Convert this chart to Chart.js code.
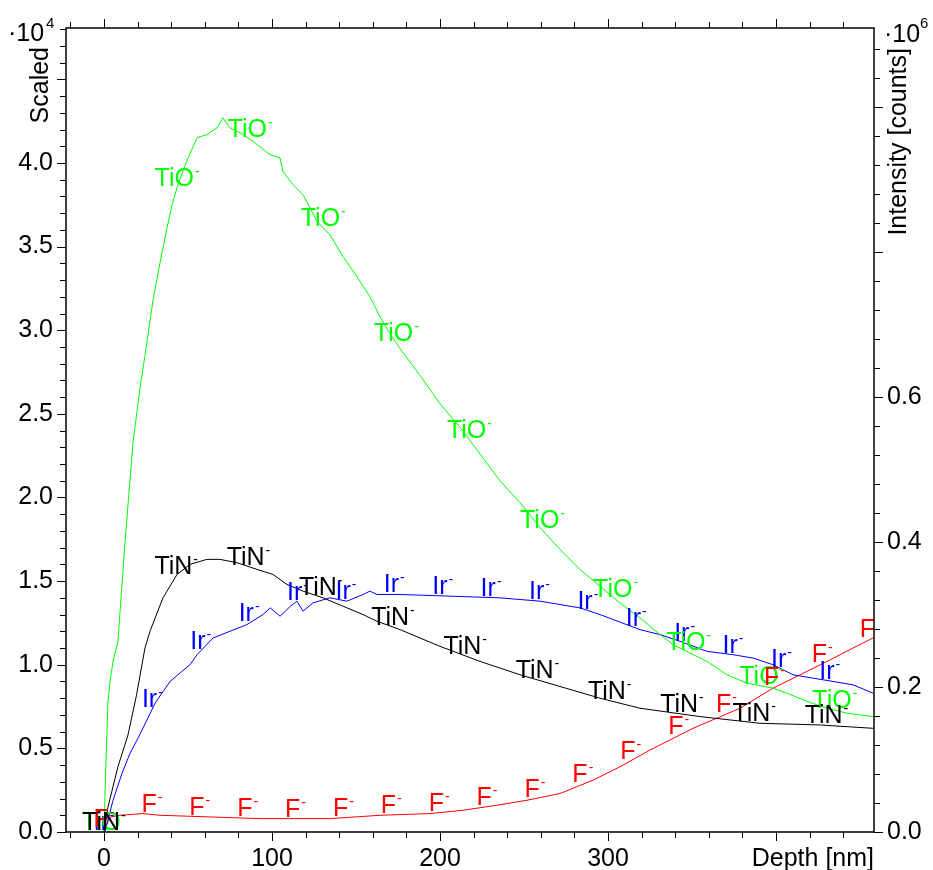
<!DOCTYPE html>
<html>
<head>
<meta charset="utf-8">
<script src="https://cdn.jsdelivr.net/npm/chart.js@4"></script>
<style>
  html, body { margin: 0; padding: 0; background: #fff; }
</style>
</head>
<body>
<canvas id="depthChart" width="933" height="870"></canvas>
<script>
// depth profile data (depth in nm, signal in units of 1e4 on the "Scaled" axis)
const tioDepth = [0, 1.2, 2.4, 3.6, 5.4, 8.3, 12.5, 17.3, 21.4, 25.6, 29.2, 33.3, 37.5, 40.5, 44, 50, 55.4, 61.3, 67.3, 70.8,
  75, 81, 88.7, 98.8, 104.8, 106.5, 112.5, 118.5, 126.8, 134.5, 142.3, 150.6, 158.3, 164.3, 170.2, 176.2, 188.1, 200, 211.9, 223.8,
  235.7, 247.6, 259.5, 271.4, 283.3, 295.2, 307.1, 319, 331, 338.7, 358.9, 370.8, 382.7, 398.2, 406.5, 418.5, 430.4, 442.3, 457.7];
const tioValues = [0, 0.43, 0.78, 0.90, 1.02, 1.14, 1.73, 2.33, 2.65, 2.93, 3.18, 3.40, 3.61, 3.75, 3.87, 4.03, 4.15, 4.17, 4.21, 4.27,
  4.21, 4.18, 4.13, 4.05, 4.03, 3.95, 3.87, 3.81, 3.65, 3.57, 3.44, 3.32, 3.20, 3.08, 2.98, 2.89, 2.73, 2.56, 2.42, 2.26,
  2.10, 1.97, 1.82, 1.69, 1.57, 1.47, 1.37, 1.28, 1.18, 1.12, 1.02, 0.94, 0.89, 0.86, 0.83, 0.78, 0.74, 0.71, 0.69];

const tinDepth = [0, 2.4, 8.3, 14.3, 19.4, 24.4, 27.4, 35.1, 43.5, 51.2, 61.3, 69, 79.2, 91.1, 100.6, 108.9, 118.5, 130.4, 142.3, 154.2,
  162.5, 176.2, 200, 223.8, 247.6, 271.4, 295.2, 319, 354.8, 390.5, 426.2, 457.7];
const tinValues = [0, 0.15, 0.39, 0.58, 0.82, 1.10, 1.20, 1.40, 1.54, 1.60, 1.63, 1.63, 1.61, 1.57, 1.54, 1.48, 1.44, 1.40, 1.35, 1.30,
  1.26, 1.21, 1.11, 1.02, 0.94, 0.87, 0.80, 0.74, 0.69, 0.65, 0.64, 0.62];

const irDepth = [0.6, 5.4, 10.7, 15.5, 20.2, 25.6, 30.4, 34.5, 39.3, 45.2, 51.2, 55.4, 64.9, 75, 85.1, 94.6, 99, 104.8, 111, 114.9,
  118.5, 124.4, 134.5, 144.6, 154.2, 158.3, 162.5, 176.2, 206, 235.7, 259.5, 283.3, 295.2, 319, 331, 342.9, 358.9, 374.4, 386.3, 398.2,
  410.1, 422, 433.9, 445.8, 457.7];
const irValues = [0, 0.19, 0.35, 0.47, 0.56, 0.67, 0.77, 0.83, 0.90, 0.95, 1.00, 1.06, 1.16, 1.20, 1.24, 1.30, 1.34, 1.29, 1.35, 1.38,
  1.32, 1.37, 1.40, 1.38, 1.42, 1.44, 1.42, 1.42, 1.41, 1.40, 1.38, 1.34, 1.30, 1.21, 1.18, 1.14, 1.08, 1.06, 1.04, 1.00,
  0.94, 0.92, 0.90, 0.88, 0.83];

const fDepth = [0, 4, 9.5, 23.2, 33.3, 63.1, 92.9, 134.5, 164.3, 194, 213.7, 233.9, 251.8, 271.4, 291.1, 307.1, 325, 350.6, 378.6, 398.2,
  414.3, 430.4, 445.8, 457.7];
const fValues = [0.02, 0.09, 0.10, 0.11, 0.10, 0.09, 0.08, 0.08, 0.10, 0.11, 0.13, 0.16, 0.19, 0.23, 0.31, 0.39, 0.49, 0.62, 0.74, 0.86,
  0.94, 1.02, 1.10, 1.16];

// depths where the curve names are written
const tioLabelDepth = [0, 43.5, 87, 130.5, 174, 217.5, 261, 304.5, 348, 391.5, 435];
const tinLabelDepth = [0, 43, 86, 129, 172, 215, 258, 301, 344, 387, 430];
const irLabelDepth = [0, 28.8, 57.6, 86.4, 115.2, 144, 172.8, 201.6, 230.4, 259.2, 288, 316.8, 345.6, 374.4, 403.2, 432];
const fLabelDepth = [0, 28.5, 57, 85.5, 114, 142.5, 171, 199.5, 228, 256.5, 285, 313.5, 342, 370.5, 399, 427.5, 456];

// axis ticks
const depthTicks = [0, 100, 200, 300];
const scaledTicks = [0, 0.5, 1, 1.5, 2, 2.5, 3, 3.5, 4];
const intensityTicks = [0, 0.2, 0.4, 0.6];

const FONT = '"Liberation Sans", Arial, sans-serif';

const series = [
  { name: 'TiO', color: '#00ff00', depth: tioDepth, values: tioValues, labels: tioLabelDepth },
  { name: 'TiN', color: '#000000', depth: tinDepth, values: tinValues, labels: tinLabelDepth },
  { name: 'Ir', color: '#0000ff', depth: irDepth, values: irValues, labels: irLabelDepth },
  { name: 'F', color: '#ff0000', depth: fDepth, values: fValues, labels: fLabelDepth }
];

function valueAt(depths, values, d) {
  if (d <= depths[0]) return values[0];
  for (let i = 1; i < depths.length; i++) {
    if (d <= depths[i]) {
      const t = (d - depths[i - 1]) / (depths[i] - depths[i - 1]);
      return values[i - 1] + t * (values[i] - values[i - 1]);
    }
  }
  return values[values.length - 1];
}

function drawIonLabel(ctx, text, cx, baseY, color) {
  ctx.font = '25px ' + FONT;
  const w = ctx.measureText(text).width;
  ctx.font = '14px ' + FONT;
  const sw = ctx.measureText('-').width;
  const left = cx - (w + sw + 1) / 2;
  ctx.fillStyle = color;
  ctx.font = '25px ' + FONT;
  ctx.fillText(text, left, baseY);
  ctx.font = '14px ' + FONT;
  ctx.fillText('-', left + w + 1, baseY - 10);
}

// curve names written along each line
const curveLabels = {
  id: 'curveLabels',
  afterDatasetsDraw(chart) {
    const { ctx, chartArea: a, scales } = chart;
    ctx.save();
    ctx.beginPath();
    ctx.rect(a.left, a.top, a.right - a.left, a.bottom - a.top);
    ctx.clip();
    ctx.textAlign = 'left';
    ctx.textBaseline = 'alphabetic';
    ['Ir', 'TiO', 'F', 'TiN'].forEach(name => {
      const s = series.find(it => it.name === name);
      s.labels.forEach(d => {
        const px = scales.x.getPixelForValue(d);
        const py = scales.y.getPixelForValue(valueAt(s.depth, s.values, d));
        drawIonLabel(ctx, s.name, px, py - 2, s.color);
      });
    });
    ctx.restore();
  }
};

// box, outward tick marks and axis titles
const frameAndTitles = {
  id: 'frameAndTitles',
  afterDraw(chart) {
    const { ctx, chartArea: a, scales } = chart;
    ctx.save();
    ctx.strokeStyle = '#000';
    ctx.lineWidth = 1;
    ctx.beginPath();
    for (let i = -1; i * 20 <= 440; i++) {
      const px = Math.round(scales.x.getPixelForValue(i * 20)) + 0.5;
      const len = i % 5 === 0 ? 9 : 6;
      ctx.moveTo(px, a.bottom); ctx.lineTo(px, a.bottom + len);
      ctx.moveTo(px, a.top); ctx.lineTo(px, a.top - len);
    }
    for (let i = 0; i <= 48; i++) {
      const py = Math.round(scales.y.getPixelForValue(i / 10)) + 0.5;
      const len = i % 5 === 0 ? 9 : 6;
      ctx.moveTo(a.left, py); ctx.lineTo(a.left - len, py);
    }
    for (let i = 0; i <= 27; i++) {
      const py = Math.round(scales.y2.getPixelForValue(i * 0.04)) + 0.5;
      const len = i % 5 === 0 ? 9 : 6;
      ctx.moveTo(a.right, py); ctx.lineTo(a.right + len, py);
    }
    ctx.stroke();
    ctx.lineWidth = 1.5;
    ctx.strokeRect(a.left, a.top, a.right - a.left, a.bottom - a.top);

    ctx.fillStyle = '#000';
    ctx.textBaseline = 'alphabetic';
    ctx.textAlign = 'left';
    ctx.font = '25px ' + FONT;
    ctx.fillText('\u00b710', 8, 41);
    ctx.fillText('\u00b710', 884, 42);
    ctx.font = '15px ' + FONT;
    ctx.fillText('4', 46, 28);
    ctx.fillText('6', 920, 28);

    ctx.font = '25px ' + FONT;
    ctx.textAlign = 'right';
    ctx.fillText('Depth [nm]', a.right, 866);

    ctx.save();
    ctx.translate(48, 47);
    ctx.rotate(-Math.PI / 2);
    ctx.fillText('Scaled', 0, 0);
    ctx.restore();

    ctx.save();
    ctx.translate(906, 48);
    ctx.rotate(-Math.PI / 2);
    ctx.fillText('Intensity [counts]', 0, 0);
    ctx.restore();
    ctx.restore();
  }
};

const tickFont = { family: FONT, size: 25 };

new Chart(document.getElementById('depthChart'), {
  type: 'line',
  data: {
    datasets: series.map(s => ({
      label: s.name,
      data: s.depth.map((d, i) => ({ x: d, y: s.values[i] })),
      borderColor: s.color,
      borderWidth: 1,
      pointRadius: 0,
      tension: 0,
      yAxisID: 'y'
    }))
  },
  options: {
    responsive: false,
    animation: false,
    layout: { padding: { top: 22, left: 0, right: 0, bottom: 0 } },
    plugins: {
      legend: { display: false },
      tooltip: { enabled: false }
    },
    scales: {
      x: {
        type: 'linear',
        position: 'bottom',
        min: -22.6,
        max: 458.3,
        grid: { display: false, drawTicks: false },
        border: { display: false },
        ticks: { font: tickFont, color: '#000', padding: 12, autoSkip: false, maxRotation: 0 },
        afterBuildTicks: s => { s.ticks = depthTicks.map(v => ({ value: v })); },
        afterFit: s => { s.height = 38; }
      },
      y: {
        type: 'linear',
        position: 'left',
        min: 0,
        max: 4.807,
        grid: { display: false, drawTicks: false },
        border: { display: false },
        ticks: { font: tickFont, color: '#000', padding: 13, autoSkip: false, callback: v => v.toFixed(1) },
        afterBuildTicks: s => { s.ticks = scaledTicks.map(v => ({ value: v })); },
        afterFit: s => { s.width = 66; }
      },
      y2: {
        type: 'linear',
        position: 'right',
        min: 0,
        max: 1.1096,
        grid: { display: false, drawTicks: false },
        border: { display: false },
        ticks: { font: tickFont, color: '#000', padding: 13, autoSkip: false, callback: v => v.toFixed(1) },
        afterBuildTicks: s => { s.ticks = intensityTicks.map(v => ({ value: v })); },
        afterFit: s => { s.width = 59; }
      }
    }
  },
  plugins: [curveLabels, frameAndTitles]
});
</script>
</body>
</html>
